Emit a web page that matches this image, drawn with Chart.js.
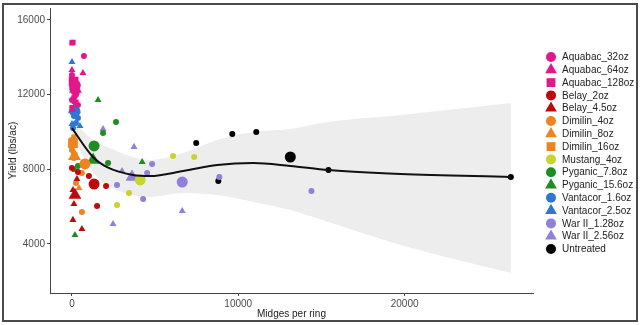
<!DOCTYPE html>
<html><head><meta charset="utf-8">
<script src="https://cdn.jsdelivr.net/npm/chart.js@4"></script>
<style>html,body{margin:0;padding:0;background:#fff}#wrap{width:640px;height:325px;position:relative}</style>
</head><body><div id="wrap"><canvas id="c" width="640" height="325"></canvas></div>
<script>
// ---------- DATA ----------
const categories = ['Aquabac_32oz','Aquabac_64oz','Aquabac_128oz','Belay_2oz','Belay_4.5oz','Dimilin_4oz','Dimilin_8oz','Dimilin_16oz','Mustang_4oz','Pyganic_7.8oz','Pyganic_15.6oz','Vantacor_1.6oz','Vantacor_2.5oz','War II_1.28oz','War II_2.56oz','Untreated'];

// individual plots [midges per ring, yield]
const aquabac32 = [[720,14070],[0,13050],[60,12360],[240,11980],[0,11710],[360,11450],[120,12140],[300,12400]];
const aquabac64 = [[0,13320],[660,13160],[180,11610],[0,11180],[120,11900]];
const aquabac128 = [[0,14770],[60,14800],[0,12360],[120,11820],[300,12140],[0,11300],[240,11600]];
const belay2 = [[1020,7640],[2050,7110],[1510,6040],[0,8070],[360,7860]];
const belay45 = [[300,7480],[60,6890],[60,5290],[600,4800],[120,6140]];
const dimilin4 = [[120,8610],[600,7800],[240,7270],[600,5710],[0,9040]];
const dimilin8 = [[0,9570],[120,8900],[420,7000],[60,9300]];
const dimilin16 = [[0,9570],[120,9730],[0,9300],[180,8770]];
const mustang4 = [[6080,8710],[7350,8660],[3430,6730],[2710,6090]];
const pyganic78 = [[2650,10540],[1870,9950],[2170,8340],[360,8180]];
const pyganic156 = [[1570,11710],[180,7960],[4220,8390],[180,4480]];
const vantacor16 = [[240,12570],[120,10860],[240,10480],[60,10210],[360,10750],[180,11300]];
const vantacor25 = [[0,13750],[480,10320],[120,11070],[0,10430]];
const war128 = [[4820,8290],[4520,7800],[4280,6410],[8860,7590],[14400,6840],[2710,7160]];
const war256 = [[3730,9200],[3010,7910],[6630,5770],[2470,5070],[1870,10160]];
const untreated = [[7470,9410],[9640,9890],[11080,10000],[8800,7370],[15420,7960],[26390,7590]];
const plotPoints = [aquabac32,aquabac64,aquabac128,belay2,belay45,dimilin4,dimilin8,dimilin16,mustang4,pyganic78,pyganic156,vantacor16,vantacor25,war128,war256,untreated];

// treatment means
const meanMidges = [200,210,100,1330,180,780,150,60,4100,1330,1270,180,150,6630,3610,13130];
const meanYield  = [12500,12300,12700,7210,6620,8290,8700,9400,7430,9250,8500,11100,11200,7320,7590,8660];

// loess smooth with confidence band
const smoothMidges = [0,1265,2110,3670,4700,6690,8730,10900,13130,15420,19760,26390];
const smoothFit    = [10210,8660,8120,7700,7640,7910,8230,8340,8180,7960,7750,7590];
const smoothUpper  = [10640,9570,9200,8660,8500,8870,9570,10000,10160,10540,10910,11550];
const smoothLower  = [9790,7860,7160,6620,6520,6730,6620,6250,5820,5180,3950,2450];

const xTicks = [0,10000,20000];
const yTicks = [4000,8000,12000,16000];

// ---------- STYLE ----------
const colors = ['#E4168C','#E4168C','#E4168C','#C00A0A','#C00A0A','#EE8420','#EE8420','#EE8420','#C9D32E','#1F8E22','#1F8E22','#2F78D2','#2F78D2','#9180DA','#9180DA','#000000'];
const shapes = ['circle','triangle','rect','circle','triangle','circle','triangle','rect','circle','circle','triangle','circle','triangle','circle','triangle','circle'];
const shapeScale = {circle:1, triangle:1.35, rect:1.25};

const datasets = [];
datasets.push({data: smoothMidges.map((x,i)=>({x, y: smoothFit[i]})), showLine:true, borderColor:'#111', borderWidth:2, pointRadius:0, cubicInterpolationMode:'monotone', fill:false, order:0});
categories.forEach((name,i)=>{
  const pts = plotPoints[i].map(p=>({x:p[0], y:p[1]}));
  pts.push({x: meanMidges[i], y: meanYield[i]});
  const k = shapeScale[shapes[i]];
  const radii = pts.map((p,j)=> (j===pts.length-1 ? 5.5 : 3) * k);
  datasets.push({label:name, data:pts, pointStyle:shapes[i], pointRadius:radii, backgroundColor:colors[i], borderColor:colors[i], borderWidth:0, showLine:false, order:1});
});
const ribIdx = datasets.length;
datasets.push({data: smoothMidges.map((x,i)=>({x, y: smoothUpper[i]})), showLine:true, borderWidth:0, borderColor:'rgba(0,0,0,0)', pointRadius:0, cubicInterpolationMode:'monotone', fill:{target: ribIdx+1}, backgroundColor:'#EDEDED', order:5});
datasets.push({data: smoothMidges.map((x,i)=>({x, y: smoothLower[i]})), showLine:true, borderWidth:0, borderColor:'rgba(0,0,0,0)', pointRadius:0, cubicInterpolationMode:'monotone', fill:false, order:6});

const FONT = "'Liberation Sans', Arial, sans-serif";

const decor = {
  id:'decor',
  afterDraw(chart){
    const ctx = chart.ctx, ca = chart.chartArea;
    ctx.save();
    ctx.fillStyle = '#222';
    ctx.font = '10px ' + FONT;
    ctx.textAlign = 'center'; ctx.textBaseline = 'middle';
    ctx.fillText('Midges per ring', (ca.left+ca.right)/2, 314);
    ctx.save();
    ctx.translate(13, (ca.top+ca.bottom)/2);
    ctx.rotate(-Math.PI/2);
    ctx.fillText('Yield (lbs/ac)', 0, 0);
    ctx.restore();
    ctx.textAlign = 'left';
    categories.forEach((name,i)=>{
      const y = 57 + i*12.8;
      ctx.fillStyle = colors[i];
      Chart.helpers.drawPoint(ctx, {pointStyle: shapes[i], radius: 5 * shapeScale[shapes[i]], borderWidth: 0}, 551, y);
      ctx.fillStyle = '#222';
      ctx.fillText(name, 562, y+0.5);
    });
    ctx.strokeStyle = '#4a4a4a';
    ctx.lineWidth = 2;
    ctx.strokeRect(3, 4, 634, 317);
    ctx.restore();
  }
};

Chart.defaults.font.family = FONT;
new Chart(document.getElementById('c'), {
  type:'scatter',
  data:{datasets},
  options:{
    responsive:false, animation:false, devicePixelRatio:1,
    layout:{padding:{left:0, top:8, right:107, bottom:0}},
    plugins:{legend:{display:false}, tooltip:{enabled:false}},
    scales:{
      x:{type:'linear', min:-1320, max:27720,
        afterBuildTicks(s){ s.ticks = xTicks.map(v=>({value:v})); },
        afterFit(s){ s.height = 32; },
        grid:{display:true, drawOnChartArea:false, drawTicks:true, tickLength:3, color:'#444'},
        border:{display:true, color:'#444', width:1},
        ticks:{color:'#4d4d4d', font:{size:10}, padding:2, maxRotation:0, autoSkip:false, callback:v=>String(v)}
      },
      y:{type:'linear', min:1375, max:16640,
        afterBuildTicks(s){ s.ticks = yTicks.map(v=>({value:v})); },
        afterFit(s){ s.width = 50; },
        grid:{display:true, drawOnChartArea:false, drawTicks:true, tickLength:3, color:'#444'},
        border:{display:true, color:'#444', width:1},
        ticks:{color:'#4d4d4d', font:{size:10}, padding:2, autoSkip:false, callback:v=>String(v)}
      }
    }
  },
  plugins:[decor]
});
</script></body></html>
